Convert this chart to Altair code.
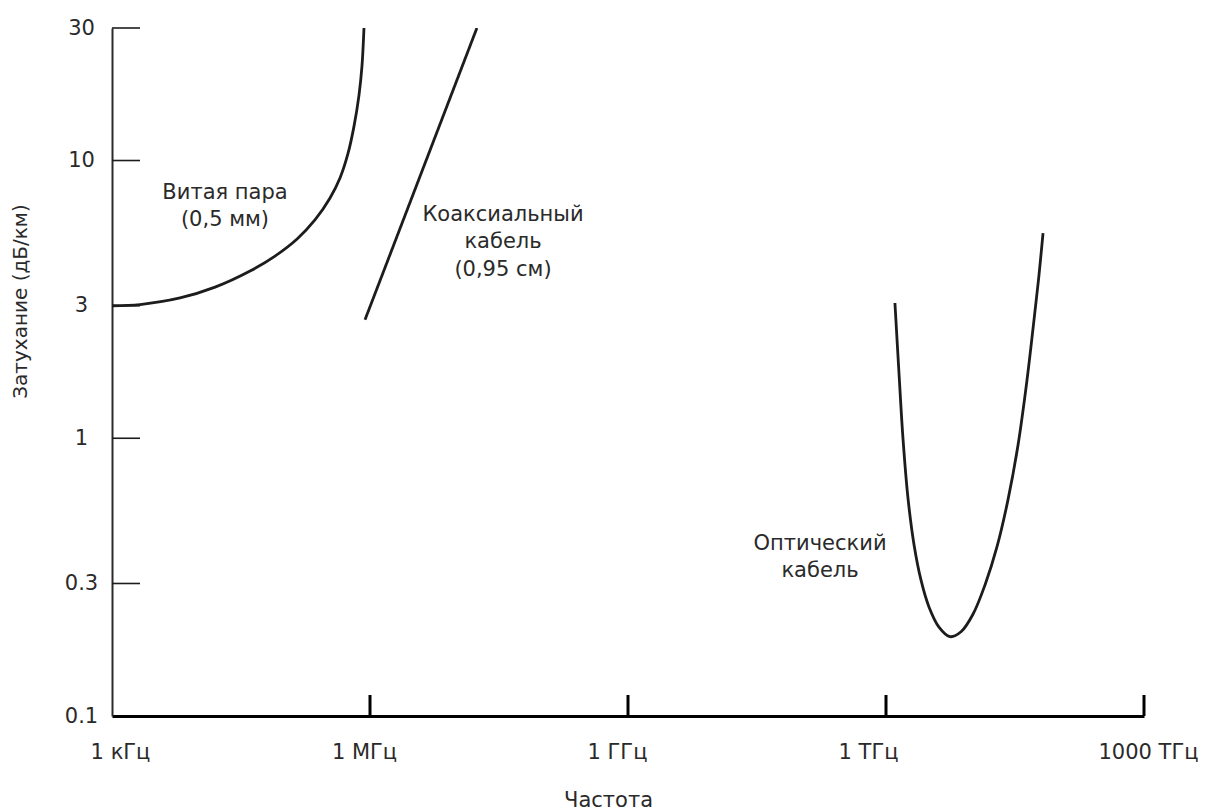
import altair as alt
import pandas as pd

# ---- data ----
tp_freq = [1.00e3, 2.12e3, 6.18e3, 1.58e4, 4.03e4, 7.86e4, 1.42e5, 2.29e5, 3.43e5, 4.48e5,
           5.55e5, 6.52e5, 7.45e5, 8.07e5, 8.51e5]
tp_att = [3.0, 3.03, 3.20, 3.50, 4.00, 4.53, 5.22, 6.11, 7.33, 8.65,
          10.6, 13.3, 17.2, 21.9, 30.0]

coax_freq = [8.75e5, 1.75e7]
coax_att = [2.67, 30.0]

opt_freq = [1.27e12, 1.42e12, 1.58e12, 1.80e12, 2.12e12, 2.55e12, 3.16e12, 4.13e12, 5.55e12,
            7.45e12, 1.03e13, 1.42e13, 1.95e13, 2.62e13, 3.43e13, 4.36e13, 5.26e13, 6.01e13, 6.70e13]
opt_att = [3.07, 1.69, 0.986, 0.610, 0.413, 0.309, 0.247, 0.209, 0.193,
           0.201, 0.233, 0.297, 0.406, 0.600, 0.946, 1.62, 2.67, 3.87, 5.48]

series_names = ["Витая пара", "Коаксиальный кабель", "Оптический кабель"]

label_texts = [["Витая пара", "(0,5 мм)"], ["Коаксиальный", "кабель", "(0,95 см)"], ["Оптический", "кабель"]]
label_freq = [2.06e4, 3.52e7, 1.71e11]
label_att = [7.64, 6.37, 0.417]

x_ticks = [1e3, 1e6, 1e9, 1e12, 1e15]
x_tick_labels = ["1 кГц", "1 МГц", "1 ГГц", "1 ТГц", "1000 ТГц"]
y_ticks = [0.1, 0.3, 1, 3, 10, 30]

x_title = "Частота"
y_title = "Затухание (дБ/км)"

# ---- tables ----
rows = []
for name, fr, at in zip(series_names, [tp_freq, coax_freq, opt_freq], [tp_att, coax_att, opt_att]):
    for f, a in zip(fr, at):
        rows.append({"series": name, "freq": f, "att": a})
curves = pd.DataFrame(rows)

labels = pd.DataFrame({"text": label_texts, "freq": label_freq, "att": label_att})
xt = pd.DataFrame({"freq": x_ticks[1:]})
yt = pd.DataFrame({"att": y_ticks[1:]})

W, H = 1032, 688
FONT = "DejaVu Sans"
INK = "#1c1c1c"
TXT = "#2a2a2a"
FS = 21

x_scale = alt.Scale(type="log", domain=[x_ticks[0], x_ticks[-1]], nice=False)
y_scale = alt.Scale(type="log", domain=[y_ticks[0], y_ticks[-1]], nice=False)

label_arr = "[" + ",".join("'" + s + "'" for s in x_tick_labels) + "]"

x_axis = alt.Axis(
    values=x_ticks,
    labelExpr=label_arr + "[round(log(datum.value)/LN10/3) - 1]",
    grid=False, ticks=False, tickSize=0,
    domainColor="#000000", domainWidth=3,
    labelFont=FONT, labelFontSize=FS, labelColor=TXT,
    labelPadding=25, labelAlign="center",
    labelOffset={"condition": [
        {"test": "datum.value < 1e4", "value": 8},
        {"test": "datum.value > 1e14", "value": 4},
        {"test": "datum.value > 1e11", "value": -18},
        {"test": "datum.value > 1e8", "value": -11}], "value": -6},
    title=x_title, titleFont=FONT, titleFontSize=FS, titleFontWeight="normal",
    titleColor=TXT, titleX=496, titleY=84, titleBaseline="middle", titleAlign="center",
)

y_axis = alt.Axis(
    values=y_ticks, format="~g",
    grid=False, ticks=False, tickSize=0,
    domainColor="#2a2a2a", domainWidth=2,
    labelFont=FONT, labelFontSize=FS, labelColor=TXT,
    labelPadding=31, labelAlign="center", labelBaseline="middle",
    title=y_title, titleFont=FONT, titleFontSize=20, titleFontWeight="normal",
    titleColor=TXT, titleAngle=270, titleX=-92, titleY=273,
    titleBaseline="middle", titleAlign="center",
)

lines = alt.Chart(curves).mark_line(
    color=INK, strokeWidth=2.8, interpolate="catmull-rom", clip=True
).encode(
    x=alt.X("freq:Q", scale=x_scale, axis=x_axis),
    y=alt.Y("att:Q", scale=y_scale, axis=y_axis),
    detail="series:N",
)

yticks = alt.Chart(yt).mark_rule(color=INK, strokeWidth=1.6).encode(
    y=alt.Y("att:Q", scale=y_scale),
    x=alt.value(0),
    x2=alt.value(28),
)

xticks = alt.Chart(xt).mark_rule(color="#000000", strokeWidth=3).encode(
    x=alt.X("freq:Q", scale=x_scale),
    y=alt.value(H),
    y2=alt.value(H - 21),
)

texts = alt.Chart(labels).mark_text(
    font=FONT, fontSize=FS, color=TXT, align="center", baseline="middle", lineHeight=27.5
).encode(
    x=alt.X("freq:Q", scale=x_scale),
    y=alt.Y("att:Q", scale=y_scale),
    text="text",
)

chart = alt.layer(lines, yticks, xticks, texts).properties(
    width=W, height=H,
    autosize=alt.AutoSizeParams(type="none"),
    padding={"left": 104, "top": 20, "right": 70, "bottom": 96},
    background="white",
).configure_view(stroke=None)

chart.save("out.html", embed_options={"renderer": "svg", "actions": False})
